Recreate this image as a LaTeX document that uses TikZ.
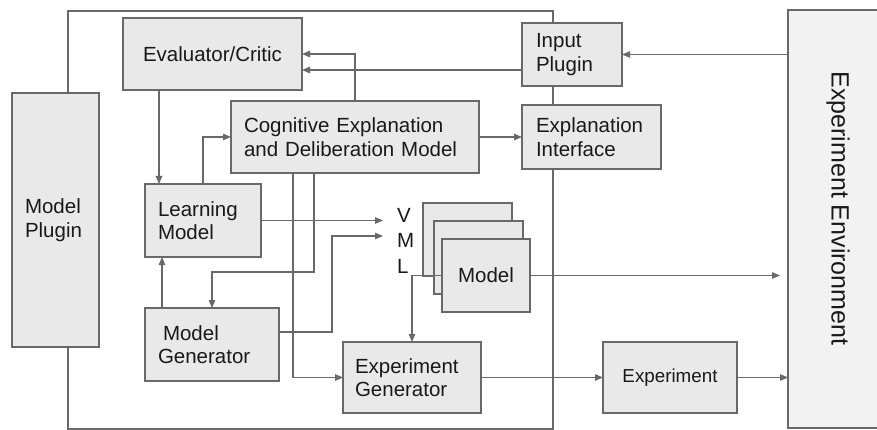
\documentclass[tikz,border=0pt]{standalone}
\usepackage{fontspec}
\setmainfont{Liberation Sans}
\usetikzlibrary{arrows.meta}
\definecolor{linec}{RGB}{105,105,105}
\definecolor{boxf}{RGB}{233,233,233}
\definecolor{envf}{RGB}{242,242,242}
\definecolor{txt}{RGB}{25,25,25}
\tikzset{
  box/.style={draw=linec, fill=boxf, line width=1.2pt, outer sep=0pt, inner ysep=2pt,
    font=\fontsize{20.5}{23.5}\selectfont, text=txt, align=left},
  conn/.style={draw=linec, line width=1.2pt},
  arr/.style={conn, -{Triangle[length=8pt,width=6.5pt]}},
  lbl/.style={font=\fontsize{20.5}{23.5}\selectfont, text=txt, inner sep=0pt, anchor=west}
}
\begin{document}
\begin{tikzpicture}[x=1pt,y=-1pt]
\useasboundingbox (0,0) rectangle (877,430);
\clip (0,0) rectangle (877,430);
\fill[white] (0,0) rectangle (877,430);
% outer frame
\draw[conn] (68,11) rectangle (553,429);
% environment
\node[box, fill=envf, minimum width=100pt, minimum height=418pt] (env) at (838,219) {};
\node[font=\fontsize{25}{28}\selectfont, text=txt, rotate=-90] (envtext) at (838,208.5) {Experiment Environment};
% boxes
\node[box, align=center, text width=169pt, inner xsep=5pt, minimum height=72pt] (eval) at (212.5,54) {Evaluator/Critic};
\node[box, text width=72pt, inner xsep=14pt, minimum height=63pt] (inplug) at (572,54.5) {Input\\Plugin};
\node[box, text width=222pt, inner xsep=13pt, minimum height=72pt] (cog) at (355,137) {Cognitive Explanation\\and Deliberation Model};
\node[box, text width=111pt, inner xsep=14pt, minimum height=64pt] (explif) at (591.5,137) {Explanation\\Interface};
\node[box, text width=61pt, inner xsep=13pt, minimum height=254pt] (mplug) at (55.5,220) {Model\\Plugin};
\node[box, text width=90pt, inner xsep=13pt, minimum height=73pt] (learn) at (203,220.5) {Learning\\Model};
\node[box, text width=108pt, inner xsep=13pt, minimum height=73pt] (mgen) at (212,344.5) {\hspace*{5pt}Model\\Generator};
\node[box, text width=114pt, inner xsep=12pt, minimum height=71pt] (expgen) at (412,377.5) {Experiment\\Generator};
\node[box, align=center, text width=124pt, inner xsep=5pt, minimum height=71pt, font=\fontsize{18.8}{22}\selectfont] (exp) at (670,377.5) {Experiment};
\node[box, minimum width=89pt, minimum height=73pt] (m3) at (467.5,239.5) {};
\node[box, minimum width=89pt, minimum height=73pt] (m2) at (478.5,257.5) {};
\node[box, align=center, minimum width=88pt, minimum height=73pt, inner xsep=2pt] (m1) at (486,275.5) {Model};
% V M L
\node[lbl] (V) at (397,215.5) {V};
\node[lbl] (M) at (397,240) {M};
\node[lbl] (L) at (397,266.5) {L};
% connectors
\draw[arr] (inplug.west |- 0,70) -- (eval.east |- 0,70);
\draw[arr] (cog.north) |- (eval.east);
\draw[arr] (env.west |- inplug.east) -- (inplug.east);
\draw[arr] (cog.east) -- (explif.west);
\draw[arr] (eval.south -| 159,0) -- (learn.north -| 159,0);
\draw[arr] (learn.north) |- (cog.west);
\draw[arr] (learn.east) -- (383,220.5);
\draw[arr] ([yshift=12.5pt]mgen.east) -| (332,236) -- (383,236);
\draw[arr] (mgen.north -| 162,0) -- (learn.south -| 162,0);
\draw[arr] (cog.south -| 314,0) |- (mgen.north |- 0,272) -- (mgen.north);
\draw[arr] (cog.south -| 293,0) |- (expgen.west);
\draw[arr, shorten >=8pt] (m1.east) -- (env.west |- m1.east);
\draw[arr] (m1.west) -| (expgen.north);
\draw[arr] (expgen.east) -- (exp.west);
\draw[arr] (exp.east) -- (env.west |- exp.east);
\end{tikzpicture}
\end{document}
